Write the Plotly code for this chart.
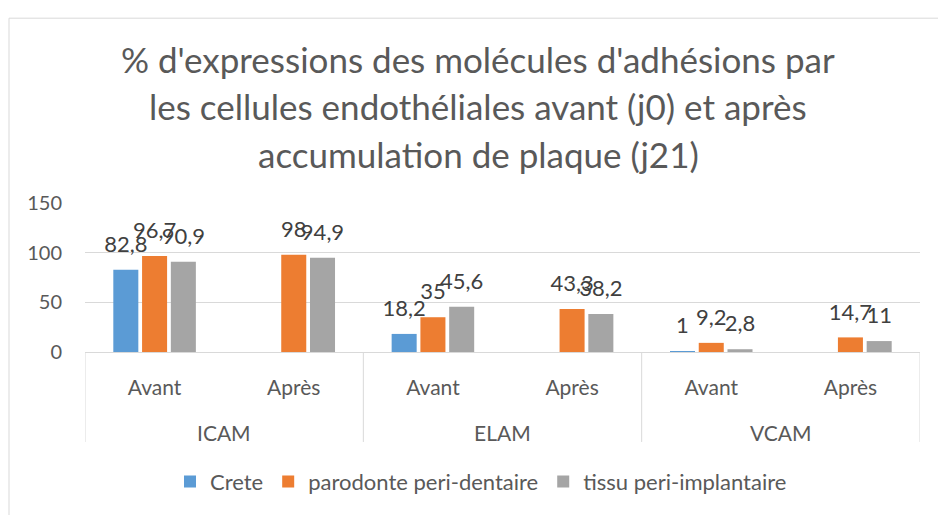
import plotly.graph_objects as go

groups = ["ICAM", "ELAM", "VCAM"]
subs = ["Avant", "Après"]
series_names = ["Crete", "parodonte peri-dentaire", "tissu peri-implantaire"]
crete = [82.8, None, 18.2, None, 1, None]
parodonte = [96.7, 98, 35, 43.3, 9.2, 14.7]
tissu = [90.9, 94.9, 45.6, 38.2, 2.8, 11]
colors = ["#5B9BD5", "#ED7D31", "#A5A5A5"]
title_lines = [
    "% d'expressions des molécules d'adhésions par",
    "les cellules endothéliales avant (j0) et après",
    "accumulation de plaque (j21)",
]
y_ticks = [0, 50, 100, 150]

cats = [f"{g} {s}" for g in groups for s in subs]
ticktext = [s for g in groups for s in subs]

FONT = "Lato"
TXT = "#595959"
LBL = "#404040"
GRID = "#D9D9D9"

def fmt(v):
    return "" if v is None else f"{v:g}".replace(".", ",")

fig = go.Figure()
for name, vals, col in zip(series_names, [crete, parodonte, tissu], colors):
    fig.add_trace(go.Bar(x=cats, y=vals, name=name, marker_color=col,
                         marker_line_width=0, hoverinfo="skip"))
for name, vals in zip(series_names, [crete, parodonte, tissu]):
    fig.add_trace(go.Scatter(x=cats, y=vals, mode="markers+text",
                             text=[fmt(v) for v in vals],
                             textposition="top center",
                             textfont=dict(family=FONT, size=22, color=LBL),
                             marker=dict(size=18, opacity=0),
                             showlegend=False, hoverinfo="skip",
                             cliponaxis=False))

L, R, T, B = 85, 18, 203, 158
W, H = 938, 515
pw, ph = W - L - R, H - T - B

def px_x(px):
    return (px - L) / pw

def px_y(py):
    return (H - B - py) / ph

annotations = []
for line, py in zip(title_lines, [54, 103, 152]):
    annotations.append(dict(text=line, xref="paper", yref="paper",
                            x=px_x(478), y=px_y(py), xanchor="center",
                            yanchor="middle", showarrow=False,
                            font=dict(family=FONT, size=35, color=TXT)))
for i, g in enumerate(groups):
    annotations.append(dict(text=g, xref="x", yref="paper", x=2 * i + 0.5,
                            y=px_y(440), xanchor="center", yanchor="middle",
                            showarrow=False,
                            font=dict(family=FONT, size=21, color=TXT)))

shapes = []
for k in range(len(groups) + 1):
    shapes.append(dict(type="line", xref="x", yref="paper",
                       x0=2 * k - 0.5, x1=2 * k - 0.5, y0=0, y1=px_y(450),
                       line=dict(color=GRID, width=1)))
# chart border (top & left visible)
shapes.append(dict(type="line", xref="paper", yref="paper",
                   x0=px_x(9), x1=px_x(960), y0=px_y(12), y1=px_y(12),
                   line=dict(color=GRID, width=1)))
shapes.append(dict(type="line", xref="paper", yref="paper",
                   x0=px_x(9), x1=px_x(9), y0=px_y(12), y1=px_y(540),
                   line=dict(color=GRID, width=1)))

fig.update_layout(
    width=W, height=H,
    margin=dict(l=L, r=R, t=T, b=B, pad=0),
    paper_bgcolor="white", plot_bgcolor="white",
    barmode="group", bargap=0.38, bargroupgap=0.13,
    scattermode="group", scattergap=0.38,
    font=dict(family=FONT, size=20, color=TXT),
    xaxis=dict(type="category", categoryorder="array", categoryarray=cats,
               tickvals=cats, ticktext=ticktext, range=[-0.5, 5.5],
               showline=True, linecolor=GRID, linewidth=1,
               showgrid=False, ticks="", ticklabelstandoff=17,
               tickfont=dict(family=FONT, size=21, color=TXT)),
    yaxis=dict(range=[0, 150], tickvals=y_ticks, showline=False,
               gridcolor=GRID, gridwidth=1, zeroline=False, ticks="",
               ticklabelstandoff=22,
               tickfont=dict(family=FONT, size=20, color=TXT)),
    legend=dict(orientation="h", x=px_x(481), y=px_y(491),
                xanchor="center", yanchor="middle",
                font=dict(family=FONT, size=22, color=TXT),
                itemwidth=30, traceorder="normal"),
    annotations=annotations, shapes=shapes, showlegend=True,
)

fig.write_html("out.html",
               config={"displayModeBar": False},
               post_script="document.body.style.margin='0';"
                           "document.body.style.padding='0';")
